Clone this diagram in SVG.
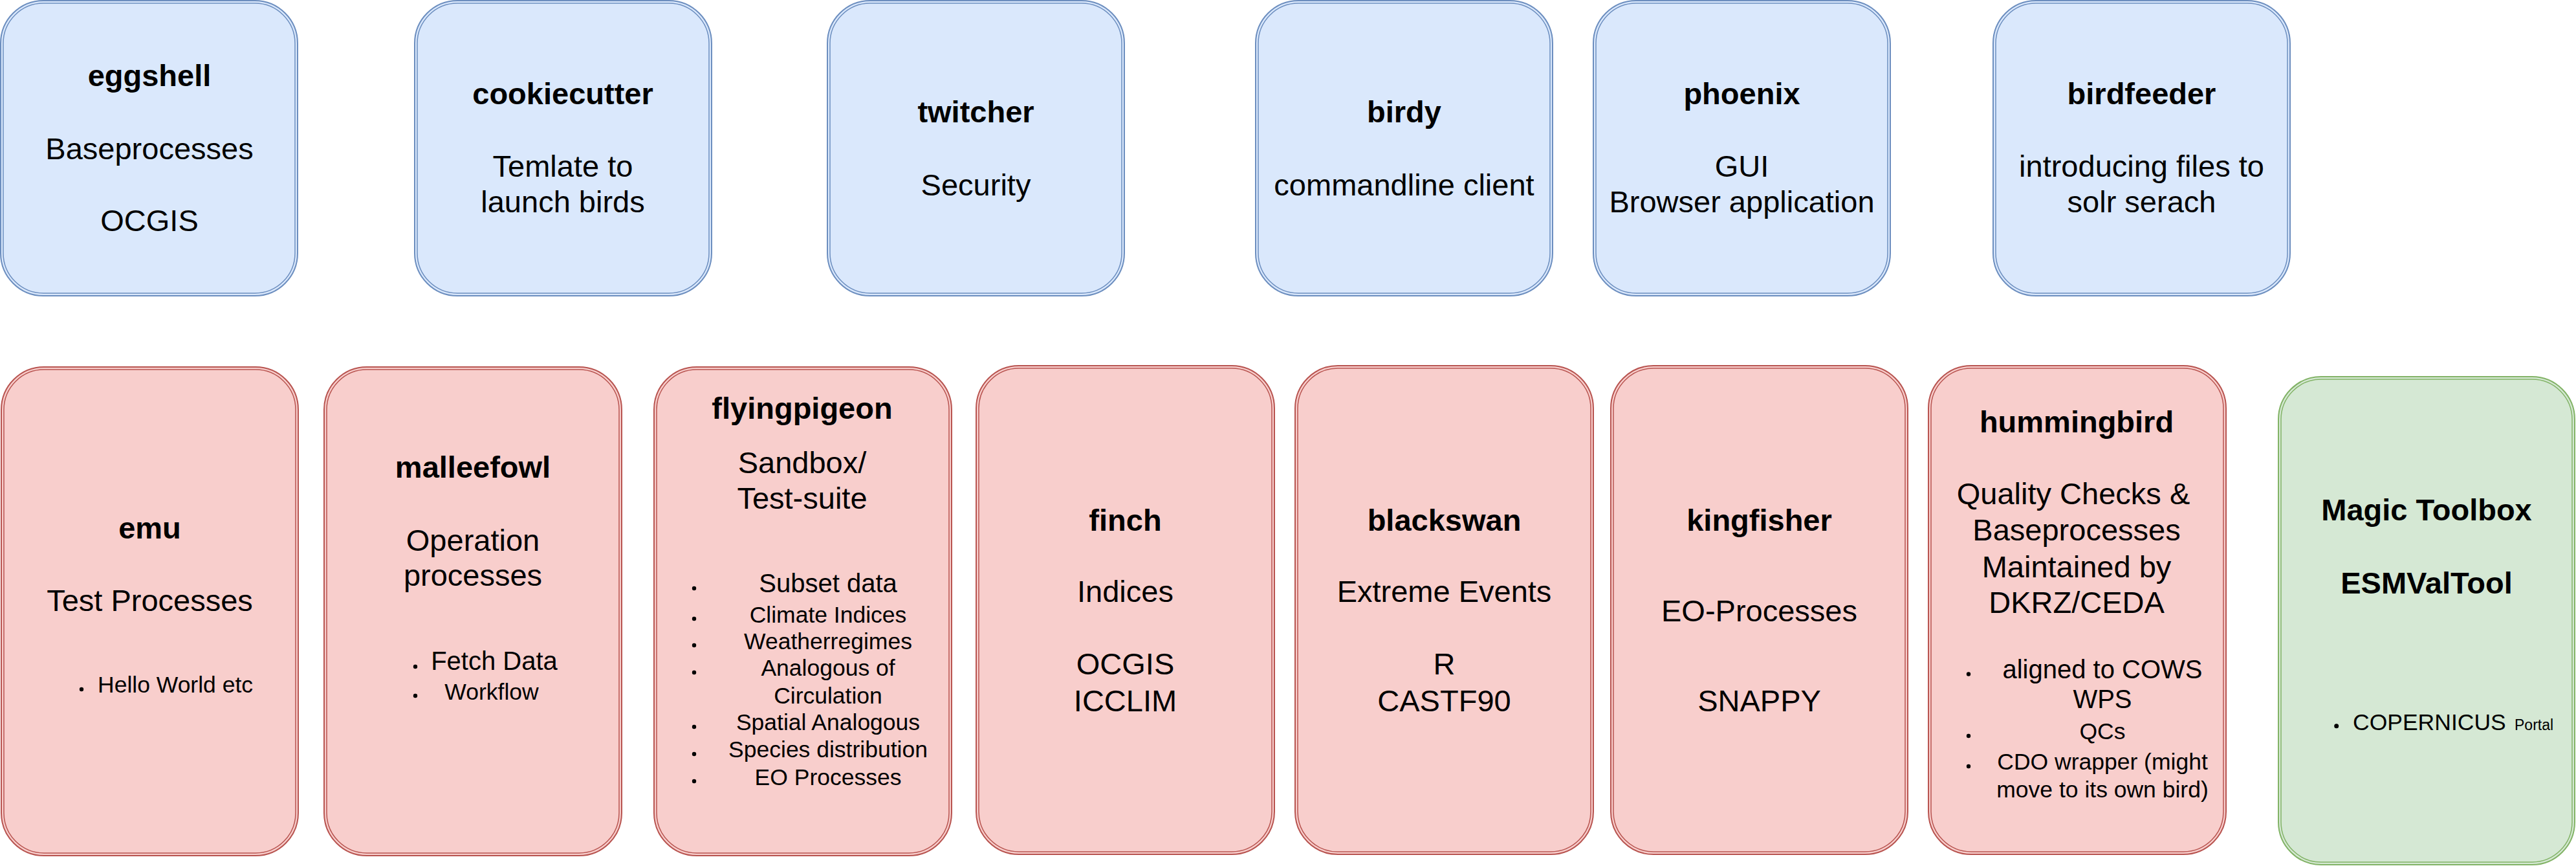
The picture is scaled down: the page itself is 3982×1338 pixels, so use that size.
<svg xmlns="http://www.w3.org/2000/svg" width="3982" height="1338" viewBox="0 0 3982 1338">
<style>
.o{stroke-width:2}
.i{fill:none;stroke-width:1.5}
.blue{fill:#dae8fc;stroke:#6c8ebf}
.bi{stroke:#6c8ebf}
.red{fill:#f8cecc;stroke:#b85450}
.ri{stroke:#b85450}
.green{fill:#d5e8d4;stroke:#82b366}
.gi{stroke:#82b366}
text{font-family:"Liberation Sans",Arial,Helvetica,sans-serif;fill:#000;font-size:47px;text-anchor:middle}
.b{font-weight:bold}
.l1{font-size:40px}
.l2{font-size:35.5px}
.st{text-anchor:start}
.dot{fill:#000}
</style>
<rect width="3982" height="1338" fill="#ffffff"/>
<g id="connectors"/>

<!-- top row -->
<g id="eggshell">
<rect class="o blue" x="1" y="1" width="459" height="456" rx="66"/>
<rect class="i bi" x="5" y="5" width="451" height="448" rx="62"/>
<text class="b" x="231" y="133">eggshell</text>
<text x="231" y="246">Baseprocesses</text>
<text x="231" y="357">OCGIS</text>
</g>
<g id="cookiecutter">
<rect class="o blue" x="641" y="1" width="459" height="456" rx="66"/>
<rect class="i bi" x="645" y="5" width="451" height="448" rx="62"/>
<text class="b" x="870" y="161">cookiecutter</text>
<text x="870" y="273">Temlate to</text>
<text x="870" y="328">launch birds</text>
</g>
<g id="twitcher">
<rect class="o blue" x="1279" y="1" width="459" height="456" rx="66"/>
<rect class="i bi" x="1283" y="5" width="451" height="448" rx="62"/>
<text class="b" x="1508.5" y="189">twitcher</text>
<text x="1508.5" y="302">Security</text>
</g>
<g id="birdy">
<rect class="o blue" x="1941" y="1" width="459" height="456" rx="66"/>
<rect class="i bi" x="1945" y="5" width="451" height="448" rx="62"/>
<text class="b" x="2170.5" y="189">birdy</text>
<text x="2170.5" y="302">commandline client</text>
</g>
<g id="phoenix">
<rect class="o blue" x="2463" y="1" width="459" height="456" rx="66"/>
<rect class="i bi" x="2467" y="5" width="451" height="448" rx="62"/>
<text class="b" x="2692.5" y="161">phoenix</text>
<text x="2692.5" y="273">GUI</text>
<text x="2692.5" y="328">Browser application</text>
</g>
<g id="birdfeeder">
<rect class="o blue" x="3081" y="1" width="459" height="456" rx="66"/>
<rect class="i bi" x="3085" y="5" width="451" height="448" rx="62"/>
<text class="b" x="3310.5" y="161">birdfeeder</text>
<text x="3310.5" y="273">introducing files to</text>
<text x="3310.5" y="328">solr serach</text>
</g>

<!-- bottom row -->
<g id="emu">
<rect class="o red" x="2" y="567" width="459" height="755" rx="66"/>
<rect class="i ri" x="6" y="571" width="451" height="747" rx="62"/>
<text class="b" x="231.5" y="832">emu</text>
<text x="231.5" y="944">Test Processes</text>
<circle class="dot" cx="126" cy="1065" r="3.2"/>
<text class="l2 st" x="151" y="1070">Hello World etc</text>
</g>
<g id="malleefowl">
<rect class="o red" x="501" y="567" width="460" height="755" rx="66"/>
<rect class="i ri" x="505" y="571" width="452" height="747" rx="62"/>
<text class="b" x="731" y="738">malleefowl</text>
<text x="731" y="850.5">Operation</text>
<text x="731" y="905">processes</text>
<circle class="dot" cx="642" cy="1030" r="3.2"/>
<text class="l1" x="764" y="1035">Fetch Data</text>
<circle class="dot" cx="642" cy="1075" r="3.2"/>
<text class="l2" x="760" y="1081">Workflow</text>
</g>
<g id="flyingpigeon">
<rect class="o red" x="1011" y="567" width="460" height="755" rx="66"/>
<rect class="i ri" x="1015" y="571" width="452" height="747" rx="62"/>
<text class="b" x="1240" y="646.5">flyingpigeon</text>
<text x="1240" y="731">Sandbox/</text>
<text x="1240" y="786">Test-suite</text>
<circle class="dot" cx="1073" cy="909" r="3.2"/>
<text class="l1" x="1280" y="915">Subset data</text>
<circle class="dot" cx="1073" cy="956" r="3.2"/>
<text class="l2" x="1280" y="961.7">Climate Indices</text>
<circle class="dot" cx="1073" cy="997" r="3.2"/>
<text class="l2" x="1280" y="1003.3">Weatherregimes</text>
<circle class="dot" cx="1073" cy="1039" r="3.2"/>
<text class="l2" x="1280" y="1044.3">Analogous of</text>
<text class="l2" x="1280" y="1086.7">Circulation</text>
<circle class="dot" cx="1073" cy="1123" r="3.2"/>
<text class="l2" x="1280" y="1128.3">Spatial Analogous</text>
<circle class="dot" cx="1073" cy="1165" r="3.2"/>
<text class="l2" x="1280" y="1170">Species distribution</text>
<circle class="dot" cx="1073" cy="1207" r="3.2"/>
<text class="l2" x="1280" y="1212.7">EO Processes</text>
</g>
<g id="finch">
<rect class="o red" x="1509" y="565" width="461" height="755" rx="66"/>
<rect class="i ri" x="1513" y="569" width="453" height="747" rx="62"/>
<text class="b" x="1739.5" y="820">finch</text>
<text x="1739.5" y="930">Indices</text>
<text x="1739.5" y="1042">OCGIS</text>
<text x="1739.5" y="1099">ICCLIM</text>
</g>
<g id="blackswan">
<rect class="o red" x="2002" y="565" width="461" height="755" rx="66"/>
<rect class="i ri" x="2006" y="569" width="453" height="747" rx="62"/>
<text class="b" x="2232.5" y="820">blackswan</text>
<text x="2232.5" y="930">Extreme Events</text>
<text x="2232.5" y="1042">R</text>
<text x="2232.5" y="1099">CASTF90</text>
</g>
<g id="kingfisher">
<rect class="o red" x="2490" y="565" width="459" height="755" rx="66"/>
<rect class="i ri" x="2494" y="569" width="451" height="747" rx="62"/>
<text class="b" x="2719.5" y="820">kingfisher</text>
<text x="2719.5" y="959.5">EO-Processes</text>
<text x="2719.5" y="1099">SNAPPY</text>
</g>
<g id="hummingbird">
<rect class="o red" x="2981" y="565" width="460" height="755" rx="66"/>
<rect class="i ri" x="2985" y="569" width="452" height="747" rx="62"/>
<text class="b" x="3210" y="668">hummingbird</text>
<text x="3205" y="778.6">Quality Checks &amp;</text>
<text x="3210" y="835">Baseprocesses</text>
<text x="3210" y="891.7">Maintained by</text>
<text x="3210" y="947">DKRZ/CEDA</text>
<circle class="dot" cx="3043" cy="1041.5" r="3.2"/>
<text class="l1" x="3250" y="1047.5">aligned to COWS</text>
<text class="l1" x="3250" y="1094">WPS</text>
<circle class="dot" cx="3043" cy="1137" r="3.2"/>
<text class="l2" x="3250" y="1142">QCs</text>
<circle class="dot" cx="3043" cy="1184" r="3.2"/>
<text class="l2" x="3250" y="1189">CDO wrapper (might</text>
<text class="l2" x="3250" y="1232">move to its own bird)</text>
</g>
<g id="magic-toolbox">
<rect class="o green" x="3522" y="582" width="458" height="754" rx="66"/>
<rect class="i gi" x="3526" y="586" width="450" height="746" rx="62"/>
<text class="b" x="3751" y="803.8">Magic Toolbox</text>
<text class="b" x="3751" y="916.8">ESMValTool</text>
<circle class="dot" cx="3611.7" cy="1121.7" r="3.5"/>
<text class="l2 st" x="3637" y="1127.7">COPERNICUS <tspan x="3887" style="font-size:23px">Portal</tspan></text>
</g>
</svg>
